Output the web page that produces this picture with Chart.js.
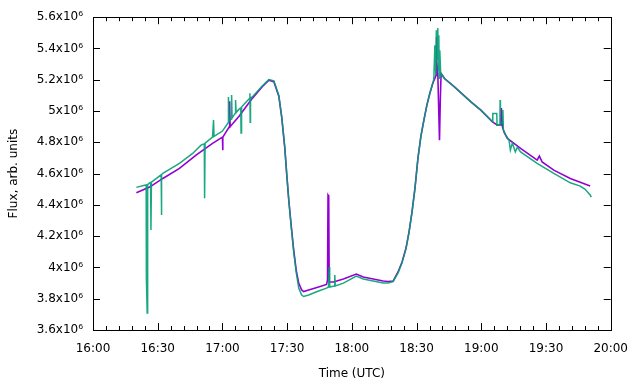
<!DOCTYPE html>
<html>
<head>
<meta charset="utf-8">
<script src="https://cdn.jsdelivr.net/npm/chart.js@4/dist/chart.umd.min.js"></script>
<style>
  html, body { margin: 0; padding: 0; background: #fff; }
  #wrap { width: 640px; height: 384px; }
</style>
</head>
<body>
<div id="wrap"><canvas id="chart" width="640" height="384"></canvas></div>
<script>
// time in minutes after 16:00 UTC, flux in units of 10^6
const violetTimes = [
  20.10, 26.26, 32.38, 40.08, 47.77, 55.42, 60.02, 60.10, 60.25, 63.11,
  63.35, 63.55, 67.72, 73.84, 78.45, 81.54, 83.84, 86.14, 87.53, 88.91,
  89.83, 90.75, 91.90, 93.05, 94.20, 95.36, 96.74, 97.66, 99.96, 104.57,
  108.26, 108.72, 108.95, 109.27, 109.50, 111.48, 116.09, 122.07, 125.30, 129.91,
  134.51, 136.82, 139.12, 141.42, 143.27, 145.11, 146.49, 147.88, 149.26, 150.64,
  152.02, 153.40, 154.78, 156.16, 157.54, 158.70, 159.07, 159.16, 159.39, 159.85,
  160.63, 161.00, 161.37, 162.93, 167.54, 175.19, 179.80, 185.19, 187.49, 189.10,
  189.33, 189.79, 190.57, 192.10, 198.22, 205.91, 206.93, 208.22, 213.61, 221.26,
  230.47
];
const violetFlux = [
  4.477, 4.514, 4.569, 4.633, 4.718, 4.793, 4.833, 4.750, 4.833, 4.897,
  5.063, 4.900, 4.967, 5.081, 5.155, 5.197, 5.188, 5.095, 4.955, 4.763,
  4.590, 4.431, 4.265, 4.111, 3.983, 3.900, 3.856, 3.846, 3.856, 3.875,
  3.891, 3.920, 4.463, 4.456, 3.907, 3.907, 3.926, 3.958, 3.939, 3.926,
  3.913, 3.910, 3.913, 3.971, 4.035, 4.124, 4.226, 4.354, 4.507, 4.699,
  4.839, 4.942, 5.038, 5.114, 5.178, 5.217, 5.229, 5.474, 5.325, 5.236,
  4.814, 5.070, 5.240, 5.208, 5.155, 5.059, 5.006, 4.931, 4.910, 4.912,
  5.019, 4.900, 4.865, 4.825, 4.761, 4.686, 4.712, 4.674, 4.622, 4.569,
  4.520
];

const greenTimes = [
  20.10, 23.95, 24.65, 24.74, 25.11, 25.34, 26.26, 26.72, 26.86, 27.09,
  31.60, 31.70, 31.88, 32.38, 40.08, 46.20, 50.07, 51.59, 51.73, 51.96,
  55.42, 55.88, 56.11, 60.02, 62.65, 62.79, 63.11, 64.03, 64.26, 64.49,
  65.87, 66.10, 66.34, 67.72, 68.50, 68.64, 68.87, 70.02, 72.65, 72.74,
  72.88, 73.02, 73.84, 78.45, 81.54, 83.84, 86.14, 87.53, 88.91, 89.83,
  90.75, 91.90, 93.05, 94.20, 95.36, 96.74, 97.66, 99.96, 104.57, 108.26,
  109.18, 109.50, 109.73, 111.94, 112.08, 112.31, 116.09, 122.07, 125.30, 129.91,
  134.51, 136.82, 139.12, 141.42, 143.27, 145.11, 146.49, 147.88, 149.26, 150.64,
  152.02, 153.40, 154.78, 156.16, 157.54, 158.01, 158.47, 158.93, 159.16, 159.39,
  159.85, 160.08, 160.31, 160.54, 160.77, 161.23, 161.37, 162.93, 167.54, 175.19,
  179.80, 185.19, 185.33, 187.17, 187.30, 187.49, 188.64, 188.73, 188.87, 189.90,
  190.02, 190.25, 191.32, 192.88, 193.48, 194.40, 195.78, 196.70, 198.22, 205.91,
  213.61, 221.26, 225.87, 228.03, 230.47, 231.02
];
const greenFlux = [
  4.512, 4.525, 4.527, 3.937, 3.709, 4.530, 4.540, 4.543, 4.239, 4.545,
  4.592, 4.335, 4.594, 4.601, 4.665, 4.729, 4.782, 4.790, 4.443, 4.795,
  4.833, 4.942, 4.838, 4.872, 4.925, 5.089, 4.935, 4.950, 5.102, 4.955,
  4.985, 5.070, 4.990, 5.012, 5.020, 4.859, 5.025, 5.044, 5.082, 5.114,
  4.929, 5.085, 5.090, 5.160, 5.201, 5.193, 5.100, 4.960, 4.770, 4.595,
  4.431, 4.260, 4.100, 3.970, 3.868, 3.824, 3.814, 3.824, 3.849, 3.868,
  3.875, 4.003, 3.875, 3.881, 3.951, 3.881, 3.900, 3.945, 3.926, 3.913,
  3.900, 3.900, 3.910, 3.965, 4.030, 4.120, 4.222, 4.352, 4.505, 4.699,
  4.839, 4.942, 5.038, 5.114, 5.180, 5.204, 5.421, 5.229, 5.517, 5.325,
  5.530, 5.261, 5.485, 5.210, 5.389, 5.223, 5.240, 5.208, 5.155, 5.059,
  5.006, 4.931, 4.985, 4.985, 4.910, 4.910, 4.916, 5.070, 4.916, 4.930,
  5.006, 4.880, 4.846, 4.814, 4.750, 4.795, 4.739, 4.769, 4.739, 4.665,
  4.601, 4.541, 4.520, 4.501, 4.463, 4.450
];

const xTickLabels = ["16:00", "16:30", "17:00", "17:30", "18:00", "18:30", "19:00", "19:30", "20:00"];

const FONT = "'DejaVu Sans', sans-serif";

function toPoints(times, values) {
  return times.map((t, i) => ({ x: t, y: values[i] }));
}

function fluxLabel(value) {
  const text = (Math.round(value * 10) / 10).toString();
  return `${text}x10\u2076`;
}

// gnuplot style frame with inward ticks on all four sides
const framePlugin = {
  id: "frame",
  afterDatasetsDraw(chart) {
    const { ctx, chartArea, scales } = chart;
    const { left, right, top, bottom } = chartArea;
    ctx.save();
    ctx.strokeStyle = "#000";
    ctx.lineWidth = 1;
    ctx.beginPath();

    for (let m = 0; m <= 240; m += 6) {
      const x = Math.round(scales.x.getPixelForValue(m)) + 0.5;
      const len = m % 30 === 0 ? 7 : 4;
      ctx.moveTo(x, bottom);
      ctx.lineTo(x, bottom - len);
      ctx.moveTo(x, top);
      ctx.lineTo(x, top + len);
    }

    for (let v = 36; v <= 56; v += 2) {
      const y = Math.round(scales.y.getPixelForValue(v / 10)) + 0.5;
      ctx.moveTo(left, y);
      ctx.lineTo(left + 7, y);
      ctx.moveTo(right, y);
      ctx.lineTo(right - 7, y);
    }
    ctx.stroke();

    ctx.strokeRect(
      Math.round(left) + 0.5,
      Math.round(top) + 0.5,
      Math.round(right - left),
      Math.round(bottom - top)
    );
    ctx.restore();
  },
};

new Chart(document.getElementById("chart"), {
  type: "line",
  data: {
    datasets: [
      {
        label: "Flux B",
        data: toPoints(greenTimes, greenFlux),
        borderColor: "rgba(0, 158, 115, 0.9)",
        borderWidth: 1.5,
        pointRadius: 0,
        tension: 0,
        order: 0,
      },
      {
        label: "Flux A",
        data: toPoints(violetTimes, violetFlux),
        borderColor: "#9400d3",
        borderWidth: 1.6,
        pointRadius: 0,
        tension: 0,
        order: 1,
      },
    ],
  },
  options: {
    responsive: false,
    animation: false,
    layout: {
      padding: { left: 0, right: 23, top: 17, bottom: 0 },
    },
    plugins: {
      legend: { display: false },
      tooltip: { enabled: false },
    },
    scales: {
      x: {
        type: "linear",
        min: 0,
        max: 240,
        afterFit: (scale) => { scale.height = 54; },
        afterBuildTicks: (scale) => {
          scale.ticks = xTickLabels.map((_, i) => ({ value: i * 30 }));
        },
        ticks: {
          color: "#000",
          padding: 12,
          maxRotation: 0,
          font: { family: FONT, size: 12 },
          callback: (value) => xTickLabels[Math.round(value / 30)],
        },
        grid: { display: false, drawTicks: false },
        border: { display: false },
        title: {
          display: true,
          text: "Time (UTC)",
          color: "#000",
          font: { family: FONT, size: 12 },
          padding: { top: 0, bottom: 3 },
        },
      },
      y: {
        type: "linear",
        min: 3.6,
        max: 5.6,
        afterFit: (scale) => { scale.width = 93; },
        ticks: {
          stepSize: 0.2,
          color: "#000",
          padding: 10,
          font: { family: FONT, size: 12 },
          callback: (value) => fluxLabel(value),
        },
        grid: { display: false, drawTicks: false },
        border: { display: false },
        title: {
          display: true,
          text: "Flux, arb. units",
          color: "#000",
          font: { family: FONT, size: 12 },
          padding: { top: 7, bottom: 0 },
        },
      },
    },
  },
  plugins: [framePlugin],
});
</script>
</body>
</html>
